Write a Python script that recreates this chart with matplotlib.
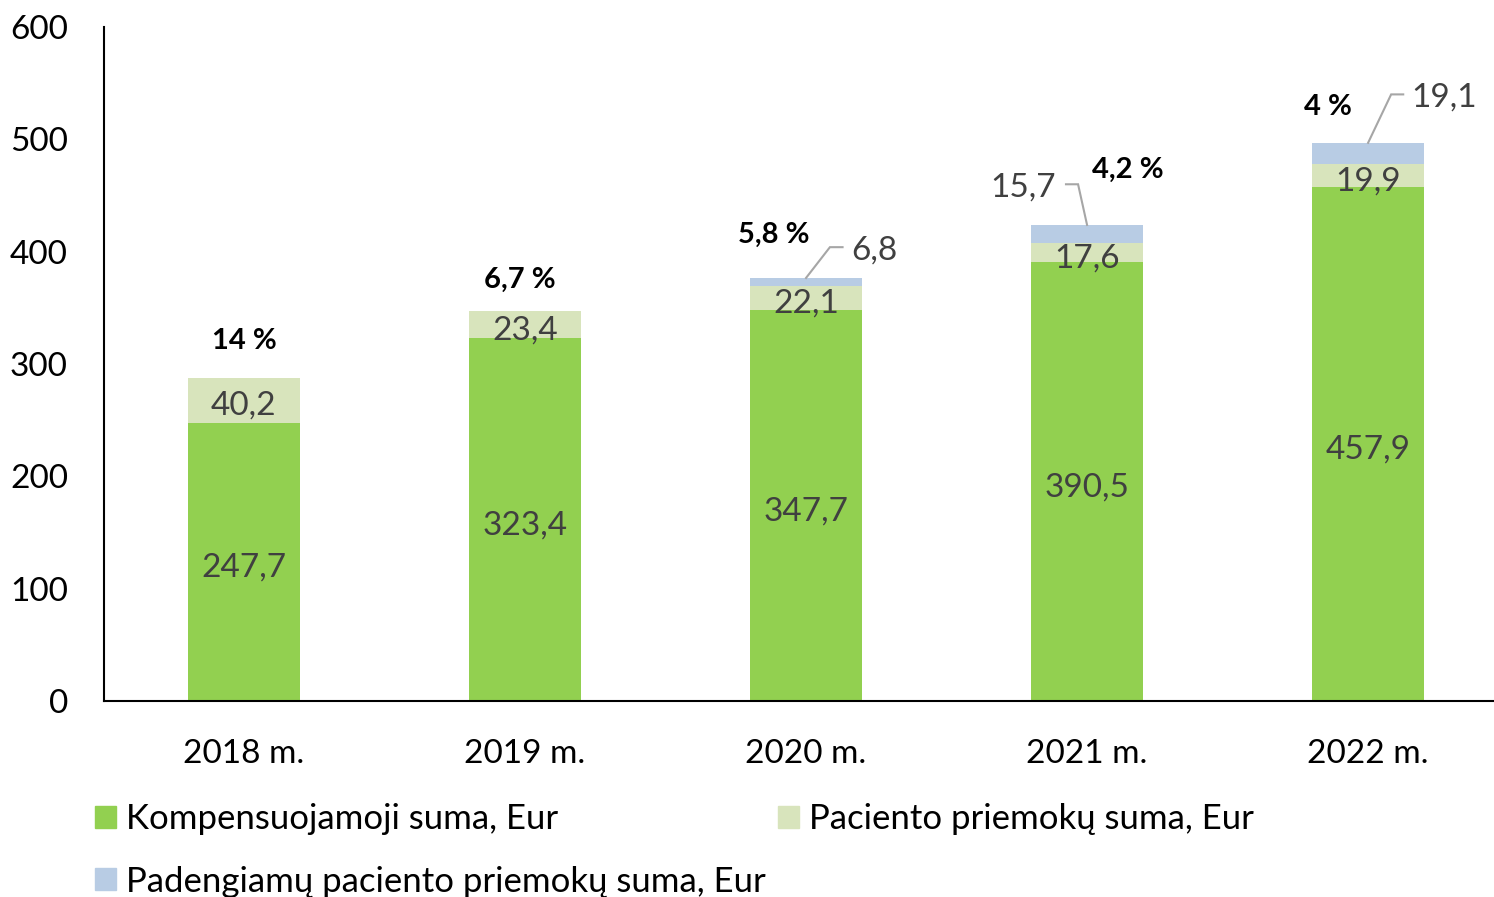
import matplotlib
matplotlib.use("Agg")
import matplotlib.pyplot as plt
from matplotlib.patches import Patch

plt.rcParams['font.family'] = ['Lato', 'DejaVu Sans']

years = ["2018 m.", "2019 m.", "2020 m.", "2021 m.", "2022 m."]
komp = [247.7, 323.4, 347.7, 390.5, 457.9]
priem = [40.2, 23.4, 22.1, 17.6, 19.9]
padeng = [0, 0, 6.8, 15.7, 19.1]
pct_labels = ["14 %", "6,7 %", "5,8 %", "4,2 %", "4 %"]
series_names = ["Kompensuojamoji suma, Eur", "Paciento priemokų suma, Eur",
                "Padengiamų paciento priemokų suma, Eur"]

c_komp = "#92D050"
c_priem = "#D8E4BC"
c_pad = "#B8CCE4"
txt_gray = "#404040"

fig = plt.figure(figsize=(14.94, 8.97), dpi=100)
ax = fig.add_axes([104/1494, (897-701)/897, (1494-104)/1494, 674/897])

x = list(range(len(years)))
w = 0.4
ax.bar(x, komp, w, color=c_komp, label=series_names[0])
ax.bar(x, priem, w, bottom=komp, color=c_priem, label=series_names[1])
bot3 = [a + b for a, b in zip(komp, priem)]
ax.bar(x, padeng, w, bottom=bot3, color=c_pad, label=series_names[2])

fmt = lambda v: f"{v:.1f}".replace(".", ",")
fs_val = 24
for i in x:
    ax.annotate(fmt(komp[i]), (i, komp[i] / 2), xytext=(0, -2),
                textcoords="offset points", ha="center", va="center_baseline",
                fontsize=fs_val, color=txt_gray)
    ax.annotate(fmt(priem[i]), (i, komp[i] + priem[i] / 2), xytext=(0, -2),
                textcoords="offset points", ha="center", va="center_baseline",
                fontsize=fs_val, color=txt_gray)

# leader-line labels for the third series (offsets in data units)
leader = {2: (0.085, 404, 0.13, 0.16, "left"),
          3: (-0.032, 460, -0.075, -0.11, "right"),
          4: (0.082, 540, 0.125, 0.153, "left")}
for i, (ex, ly, hx, tx, ha) in leader.items():
    top = bot3[i] + padeng[i]
    ax.plot([i, i + ex, i + hx], [top, ly, ly], color="#A6A6A6", lw=1.5,
            solid_joinstyle="miter", clip_on=False)
    ax.text(i + tx, ly, fmt(padeng[i]), ha=ha, va="center_baseline",
            fontsize=fs_val, color=txt_gray)

pct_pos = [(0.0, 323), (0.98, 377), (1.886, 417), (3.146, 475), (3.858, 531)]
for (px, py), lab in zip(pct_pos, pct_labels):
    ax.text(px, py, lab, ha="center", va="center_baseline", fontsize=21,
            fontweight="bold", color="black")

ax.set_ylim(0, 600)
ax.set_yticks(range(0, 601, 100))
ax.set_xlim(-0.498, 4.448)
ax.set_xticks(x)
ax.set_xticklabels(years)
for s in ["top", "right"]:
    ax.spines[s].set_visible(False)
for s in ["left", "bottom"]:
    ax.spines[s].set_linewidth(1.5)
    ax.spines[s].set_color("black")
ax.tick_params(axis="y", length=0, pad=26, labelsize=24, colors="black")
ax.tick_params(axis="x", length=0, pad=27, labelsize=24, colors="black")

handles = [Patch(color=c_komp), Patch(color=c_pad), Patch(color=c_priem)]
labels = [series_names[0], series_names[2], series_names[1]]
fig.legend(handles, labels, ncol=2, loc="upper left",
           bbox_to_anchor=(95/1494, 1 - 803/897), frameon=False,
           fontsize=25, handlelength=0.6, handleheight=0.6, handletextpad=0.3,
           columnspacing=0.35, labelspacing=0.88, borderaxespad=0, borderpad=0)

fig.savefig("out.png", dpi=100)
